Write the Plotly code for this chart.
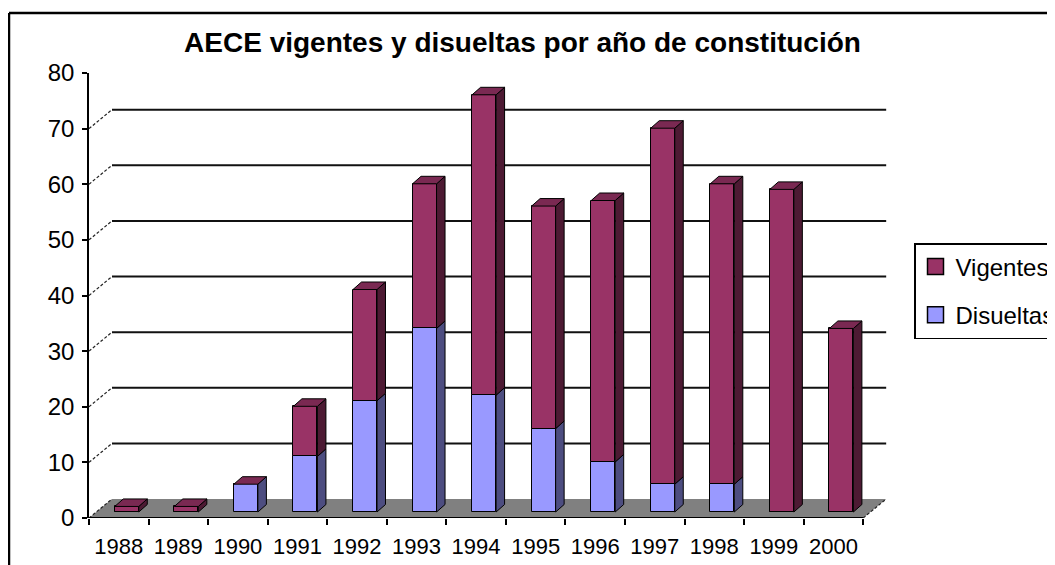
import plotly.graph_objects as go

# ---- data ----
years = ["1988", "1989", "1990", "1991", "1992", "1993", "1994",
         "1995", "1996", "1997", "1998", "1999", "2000"]
disueltas = [0, 0, 5, 10, 20, 33, 21, 15, 9, 5, 5, 0, 0]
vigentes = [1, 1, 0, 9, 20, 26, 54, 40, 47, 64, 54, 58, 33]
y_ticks = [0, 10, 20, 30, 40, 50, 60, 70, 80]
title_text = "AECE vigentes y disueltas por año de constitución"

# ---- page geometry (browser body margin of 8px compensated) ----
OFF = 8
W, H = 1055 - OFF, 565 - OFF
L, R, T, B = 89 - OFF, 887 - OFF, 73 - OFF, 518 - OFF   # plot area (figure px)
XMIN, XMAX = -0.5, len(years) - 0.5 + 0.4
YMIN, YMAX = 0, 80
PX_X = (R - L) / (XMAX - XMIN)
PX_Y = (B - T) / (YMAX - YMIN)
pw, ph = R - L, B - T

# pseudo 3-D depth, in axis units
DX, DY = 23 / PX_X, 19 / PX_Y            # full floor depth
C_SHIFT = 8 / PX_X                       # bar front-face centre shift
BW = 24 / PX_X                           # bar front width
Y0 = 6 / PX_Y                            # bar base lift
SDX, SDY = 8.5 / PX_X, 7.5 / PX_Y        # bar depth

VIG_FRONT, VIG_SIDE, VIG_TOP = "#993366", "#4d1a33", "#7a2952"
DIS_FRONT, DIS_SIDE = "#9999ff", "#4d4d80"
FONT = "Liberation Sans, Arial, sans-serif"

n = len(years)
idx = list(range(n))
xc = [i + C_SHIFT for i in idx]
dis_base = [Y0] * n
vig_base = [Y0 + d for d in disueltas]

fig = go.Figure()

fig.add_trace(go.Bar(
    name="Disueltas", x=xc, y=disueltas, base=dis_base, width=BW,
    marker=dict(color=DIS_FRONT, line=dict(color="black", width=1)),
    showlegend=False, hoverinfo="skip"))
fig.add_trace(go.Bar(
    name="Vigentes", x=xc, y=vigentes, base=vig_base, width=BW,
    marker=dict(color=VIG_FRONT, line=dict(color="black", width=1)),
    showlegend=False, hoverinfo="skip"))


def side(xr, yb, yt):
    return ([xr, xr + SDX, xr + SDX, xr, xr, None],
            [yb, yb + SDY, yt + SDY, yt, yb, None])


def top(xl, xr, yt):
    return ([xl, xr, xr + SDX, xl + SDX, xl, None],
            [yt, yt, yt + SDY, yt + SDY, yt, None])


dsx, dsy, vsx, vsy, vtx, vty = [], [], [], [], [], []
for i in idx:
    xl = xc[i] - BW / 2
    xr = xc[i] + BW / 2
    b1, t1 = Y0, Y0 + disueltas[i]
    t2 = t1 + vigentes[i]
    if disueltas[i] > 0:
        a, b = side(xr, b1, t1)
        dsx += a; dsy += b
    if vigentes[i] > 0:
        a, b = side(xr, t1, t2)
        vsx += a; vsy += b
    a, b = top(xl, xr, t2)
    vtx += a; vty += b

for xs, ys, col in [(dsx, dsy, DIS_SIDE), (vsx, vsy, VIG_SIDE), (vtx, vty, VIG_TOP)]:
    fig.add_trace(go.Scatter(x=xs, y=ys, mode="lines", fill="toself",
                             fillcolor=col, line=dict(color="black", width=1),
                             showlegend=False, hoverinfo="skip"))

# legend entries (square swatches like the reference)
for name, col in [("Vigentes", VIG_FRONT), ("Disueltas", DIS_FRONT)]:
    fig.add_trace(go.Scatter(
        x=[None], y=[None], mode="markers", name=name,
        marker=dict(symbol="square", size=16, color=col,
                    line=dict(color="black", width=1.5)),
        legendgroup=name, hoverinfo="skip"))

shapes = []
x_end = n - 0.5
# floor
shapes.append(dict(type="path", xref="x", yref="y", layer="below",
                   path=f"M{XMIN},0 L{x_end},0 L{x_end + DX},{DY} L{XMIN + DX},{DY} Z",
                   fillcolor="#808080", line=dict(width=0)))
# back gridlines and depth connectors
for v in y_ticks:
    if 0 < v < YMAX:
        shapes.append(dict(type="line", xref="x", yref="y", layer="below",
                           x0=XMIN + DX, x1=x_end + DX, y0=v + DY, y1=v + DY,
                           line=dict(color="#111111", width=2)))
    if v < YMAX:
        shapes.append(dict(type="line", xref="x", yref="y", layer="above",
                           x0=XMIN, x1=XMIN + DX, y0=v, y1=v + DY,
                           line=dict(color="#222222", width=1.2, dash="3px,2px")))
# right floor edge
shapes.append(dict(type="line", xref="x", yref="y", layer="above",
                   x0=x_end, x1=x_end + DX, y0=0, y1=DY,
                   line=dict(color="#222222", width=1.2, dash="3px,2px")))
# front floor edge (x axis line)
shapes.append(dict(type="line", xref="x", yref="y", layer="above",
                   x0=XMIN, x1=x_end, y0=0, y1=0,
                   line=dict(color="black", width=1.8)))
# outer frame (top and left border of the original chart area)
fy = 13 - OFF
fx = 9 - OFF
shapes.append(dict(type="line", xref="paper", yref="paper",
                   x0=(fx - L) / pw, x1=(W + 5 - L) / pw,
                   y0=(B - fy) / ph, y1=(B - fy) / ph,
                   line=dict(color="black", width=2.5)))
shapes.append(dict(type="line", xref="paper", yref="paper",
                   x0=(fx - L) / pw, x1=(fx - L) / pw,
                   y0=(B - fy) / ph, y1=(B - H - 5) / ph,
                   line=dict(color="black", width=2.5)))

fig.update_layout(
    width=W, height=H,
    margin=dict(l=L, r=W - R, t=T, b=H - B, autoexpand=False),
    paper_bgcolor="white", plot_bgcolor="white",
    barmode="overlay", bargap=0,
    showlegend=True,
    title=dict(text=title_text, x=(522.5 - OFF) / W, xanchor="center",
               y=1 - (42 - OFF) / H, yanchor="middle",
               font=dict(family=FONT, size=28, color="black", weight="bold")),
    legend=dict(x=(914 - OFF - L) / pw, y=(B - (243 - OFF)) / ph,
                xanchor="left", yanchor="top",
                bgcolor="white", bordercolor="black", borderwidth=1.5,
                font=dict(family=FONT, size=24, color="black"),
                traceorder="grouped", tracegroupgap=14, itemsizing="trace"),
    shapes=shapes,
    xaxis=dict(range=[XMIN, XMAX], tickvals=idx, ticktext=years,
               ticks="", showline=False, showgrid=False, zeroline=False,
               tickfont=dict(family=FONT, size=22, color="black"),
               ticklabelstandoff=13,
               minor=dict(tickvals=[i - 0.5 for i in range(n + 1)], ticks="outside",
                          ticklen=6, tickwidth=1.5, tickcolor="black", showgrid=False),
               fixedrange=True),
    yaxis=dict(range=[YMIN, YMAX], tickvals=y_ticks, ticks="outside", ticklen=5,
               tickwidth=1.5, tickcolor="black", showline=True, linecolor="black",
               linewidth=1.5, showgrid=False, zeroline=False,
               tickfont=dict(family=FONT, size=24, color="black"),
               ticklabelstandoff=3, fixedrange=True),
)

fig.write_html("out.html")
